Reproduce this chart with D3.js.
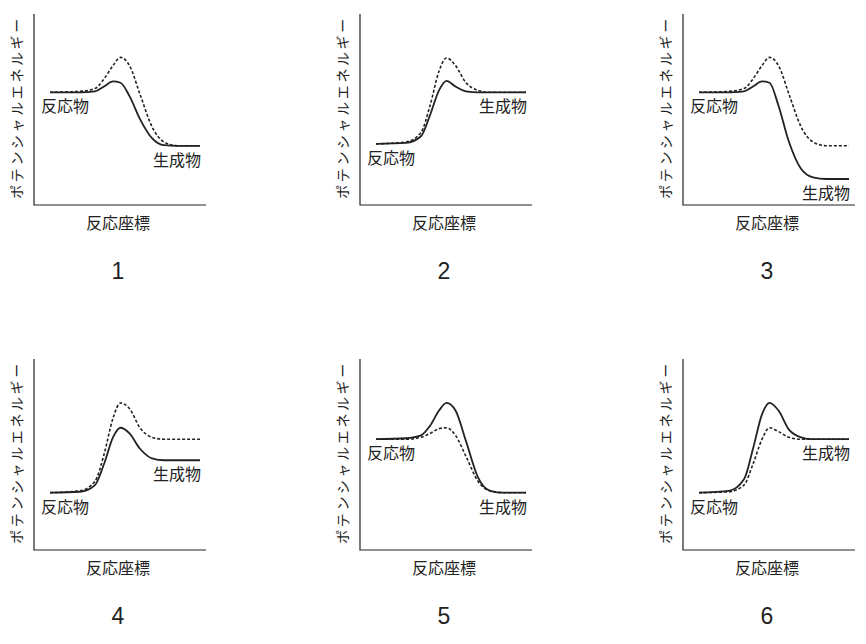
<!DOCTYPE html><html><head><meta charset="utf-8"><script src="https://cdn.jsdelivr.net/npm/d3@7"></script>
<style>body{margin:0;background:#fff}</style></head><body><svg id="c" width="866" height="644"></svg>
<script>
const panelNumbers=["1","2","3","4","5","6"];
const xGrid=[0,2,3,3.6,4.2,4.7,5.3,6,6.8,7.6,8.5,10];
const solidSeries=[
[59,59,59.5,62,64.7,64,57,45,35,31.3,31,31],
[32,32.5,36,47,60,65,62,59.5,59,59,59,59],
[59,59,59.5,62,64.7,64,52,33,19,14.5,13.6,13.6],
[30,30.5,34,45,59,64,61,53,48,47,47,47],
[58,58.5,60,65,73,77,73,57,38,31,30,30],
[30,31,37,53,71,77,73,63,59,58,58,58]];
const dashedSeries=[
[59,59.5,61,66,73,77.3,73,58,41,33,31,31],
[32,33,38,52,70,77,73,64,60,59,59,59],
[59,59.5,61,66,73,77.3,73,58,41,33,31,31],
[30,31,36,50,69,77,74,64,59,58,58,58],
[58,58,59,61,63.5,64,60,49,36,31,30,30],
[30,30.5,34,45,58,64,62,59,58,58,58,58]];
const yLabel="ポテンシャルエネルギー", xLabel="反応座標", reactLabel="反応物", prodLabel="生成物";
const axX=[34,360,683], axTop=[14,359], H=191;
const svg=d3.select("#c");
const font="'Noto Sans CJK JP',sans-serif";
panelNumbers.forEach((n,i)=>{
 const ox=axX[i%3], oy=axTop[Math.floor(i/3)];
 const g=svg.append("g").attr("transform",`translate(${ox},${oy})`);
 const x=d3.scaleLinear().domain([0,10]).range([16,166]);
 const y=d3.scaleLinear().domain([0,100]).range([H,0]);
 g.append("path").attr("d",`M0,0V${H}H${172}`).attr("fill","none").attr("stroke","#222").attr("stroke-width",1.2);
 const line=d3.line().x((d,j)=>x(xGrid[j])).y(d=>y(d)).curve(d3.curveMonotoneX);
 g.append("path").attr("d",line(dashedSeries[i])).attr("fill","none").attr("stroke","#222").attr("stroke-width",1.6).attr("stroke-dasharray","3,2");
 g.append("path").attr("d",line(solidSeries[i])).attr("fill","none").attr("stroke","#222").attr("stroke-width",1.8);
 const s=solidSeries[i];
 g.append("text").attr("x",7).attr("y",y(s[0])+20).text(reactLabel).attr("font-family",font).attr("font-size",16).attr("fill","#222");
 g.append("text").attr("x",167).attr("y",y(s[s.length-1])+20).attr("text-anchor","end").text(prodLabel).attr("font-family",font).attr("font-size",16).attr("fill","#222");
 g.append("text").attr("transform",`translate(-12,${H/2-2}) rotate(-90)`).attr("text-anchor","middle").text(yLabel).attr("font-family",font).attr("font-size",14).attr("letter-spacing",2.6).attr("fill","#222");
 g.append("text").attr("x",84).attr("y",H+24).attr("text-anchor","middle").text(xLabel).attr("font-family",font).attr("font-size",16).attr("fill","#222");
 g.append("text").attr("x",84).attr("y",H+74).attr("text-anchor","middle").text(n).attr("font-family","'Liberation Sans Narrow','Liberation Sans',sans-serif").attr("font-size",23).attr("fill","#222");
});
</script></body></html>
